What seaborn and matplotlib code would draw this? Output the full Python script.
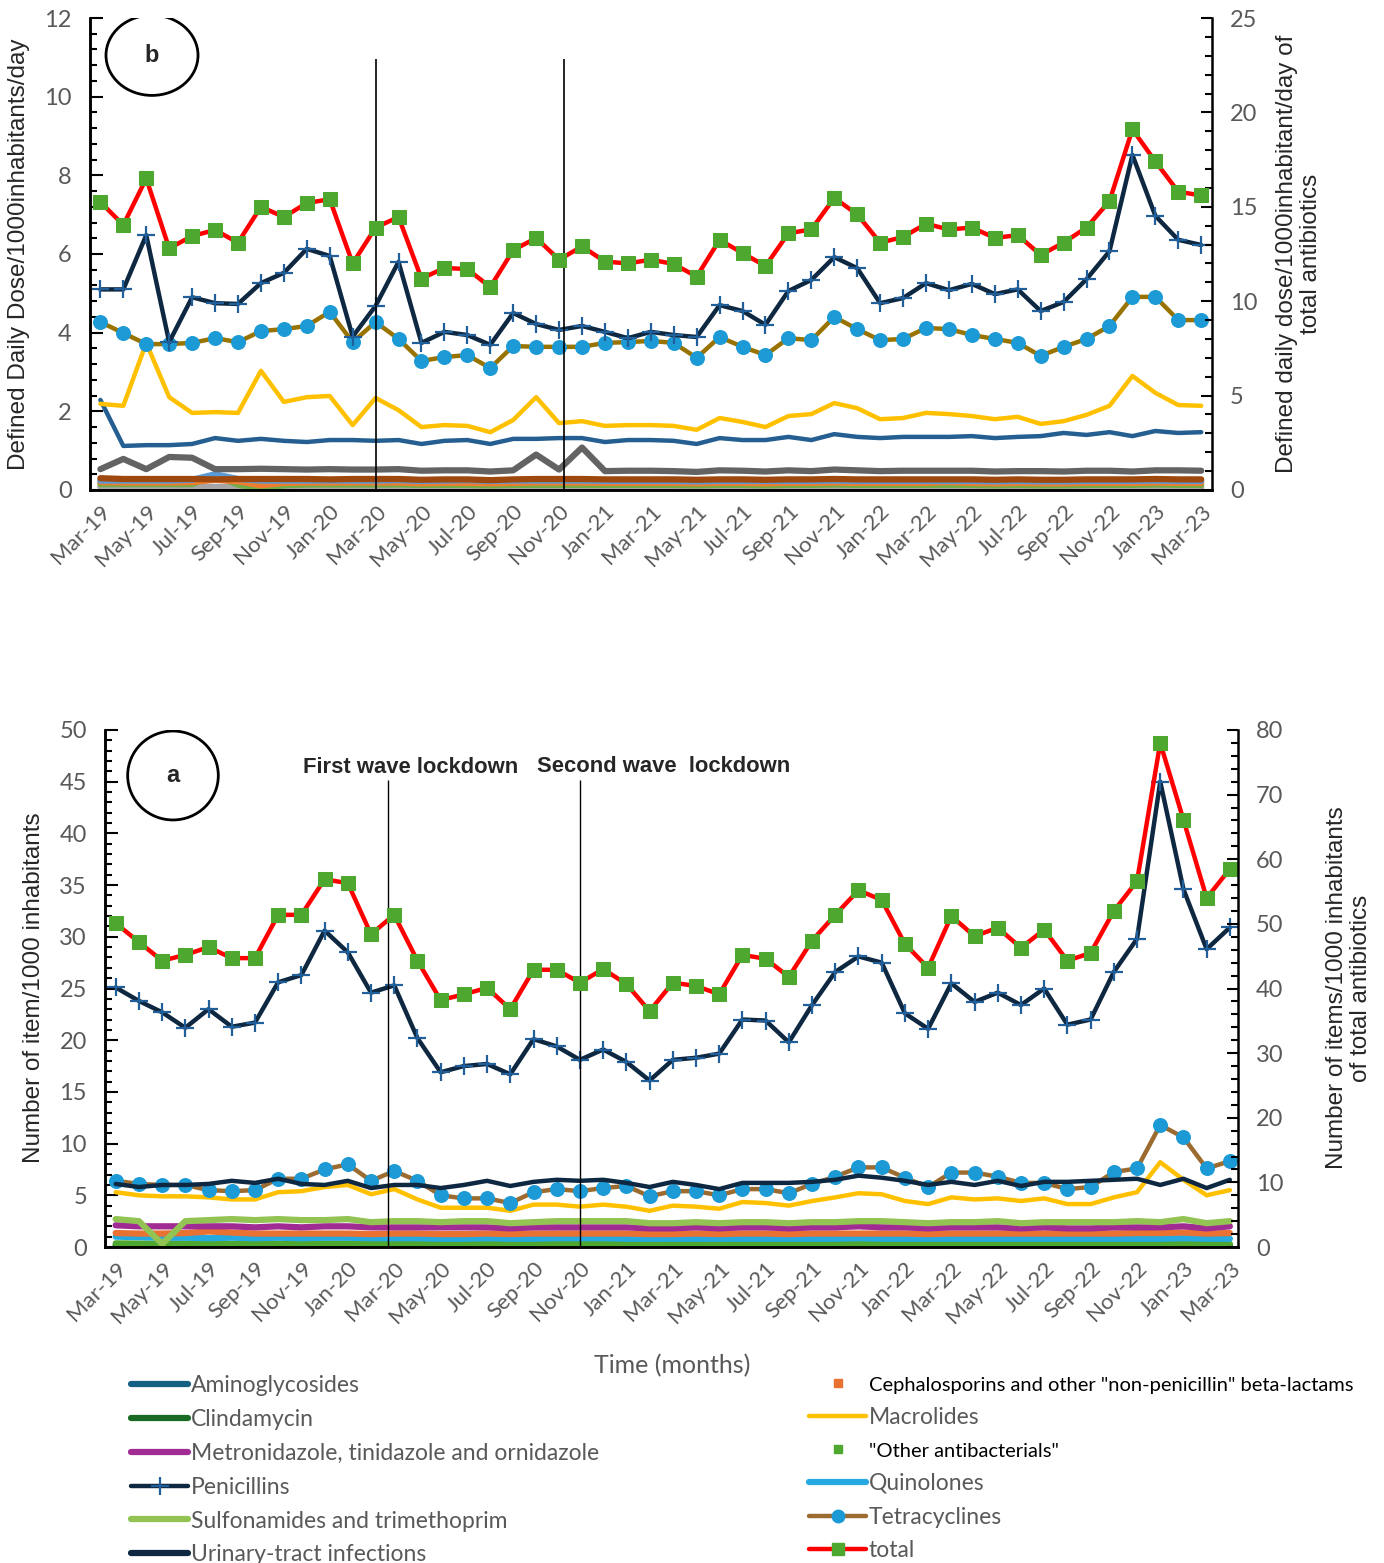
import matplotlib
matplotlib.use("Agg")
import matplotlib.pyplot as plt
import seaborn as sns
from matplotlib.patches import Ellipse
from matplotlib.lines import Line2D
from matplotlib.ticker import MultipleLocator

sns.set_style("white")
plt.rcParams['font.family'] = ['Lato', 'DejaVu Sans']

months = ['Mar-19','Apr-19','May-19','Jun-19','Jul-19','Aug-19','Sep-19','Oct-19','Nov-19','Dec-19',
          'Jan-20','Feb-20','Mar-20','Apr-20','May-20','Jun-20','Jul-20','Aug-20','Sep-20','Oct-20','Nov-20','Dec-20',
          'Jan-21','Feb-21','Mar-21','Apr-21','May-21','Jun-21','Jul-21','Aug-21','Sep-21','Oct-21','Nov-21','Dec-21',
          'Jan-22','Feb-22','Mar-22','Apr-22','May-22','Jun-22','Jul-22','Aug-22','Sep-22','Oct-22','Nov-22','Dec-22',
          'Jan-23','Feb-23','Mar-23']

# ---------- panel b: DDD/1000 inhabitants/day ----------
total_b = [15.25,14.04,16.5,12.8,13.45,13.77,13.1,15.0,14.46,15.2,15.4,12.0,13.9,14.46,11.2,11.76,11.7,10.75,12.7,13.35,
           12.2,12.9,12.1,12.0,12.2,11.97,11.3,13.25,12.55,11.86,13.6,13.8,15.47,14.6,13.1,13.4,14.1,13.8,13.9,13.35,
           13.5,12.45,13.1,13.9,15.3,19.1,17.4,15.8,15.6]
pen_b = [5.1,5.1,6.48,3.76,4.9,4.75,4.73,5.26,5.52,6.13,5.95,3.9,4.68,5.8,3.74,4.02,3.94,3.69,4.5,4.22,4.07,4.17,
         4.02,3.86,4.02,3.94,3.89,4.7,4.55,4.2,5.06,5.34,5.92,5.64,4.75,4.88,5.26,5.08,5.24,4.98,5.1,4.55,4.78,5.36,
         6.07,8.52,6.97,6.36,6.23]
tet_b = [4.27,3.99,3.71,3.71,3.74,3.86,3.76,4.04,4.09,4.17,4.53,3.76,4.27,3.84,3.28,3.38,3.43,3.1,3.66,3.64,3.64,3.64,
         3.74,3.76,3.79,3.74,3.36,3.89,3.64,3.43,3.86,3.81,4.4,4.09,3.81,3.84,4.12,4.09,3.94,3.84,3.74,3.41,3.64,3.84,
         4.17,4.91,4.91,4.32,4.32]
mac_b = [2.19,2.14,3.74,2.36,1.96,1.98,1.96,3.03,2.24,2.36,2.39,1.65,2.34,2.03,1.6,1.65,1.63,1.47,1.78,2.36,1.7,1.75,
         1.63,1.65,1.65,1.63,1.53,1.83,1.73,1.6,1.88,1.93,2.21,2.08,1.8,1.83,1.96,1.93,1.88,1.8,1.86,1.68,1.75,1.91,
         2.14,2.9,2.47,2.16,2.14]
uti_b = [2.29,1.12,1.14,1.14,1.17,1.32,1.25,1.3,1.25,1.22,1.27,1.27,1.25,1.27,1.17,1.25,1.27,1.17,1.3,1.3,1.32,1.32,
         1.22,1.27,1.27,1.25,1.17,1.32,1.27,1.27,1.35,1.27,1.42,1.35,1.32,1.35,1.35,1.35,1.37,1.32,1.35,1.37,1.45,1.4,
         1.47,1.37,1.5,1.45,1.47]
sul_b = [0.53,0.79,0.53,0.84,0.82,0.53,0.53,0.54,0.53,0.52,0.53,0.52,0.52,0.53,0.49,0.5,0.5,0.47,0.5,0.9,0.52,1.08,
         0.48,0.49,0.49,0.48,0.46,0.5,0.49,0.47,0.5,0.48,0.52,0.5,0.48,0.49,0.49,0.49,0.49,0.47,0.48,0.48,0.47,0.49,
         0.49,0.47,0.5,0.5,0.49]
quin_b = [0.3,0.28,0.28,0.28,0.28,0.27,0.28,0.28,0.28,0.28,0.27,0.28,0.28,0.28,0.26,0.27,0.27,0.25,0.27,0.28,0.28,0.28,
          0.27,0.27,0.27,0.27,0.26,0.27,0.27,0.26,0.27,0.27,0.28,0.27,0.27,0.27,0.27,0.27,0.27,0.26,0.27,0.26,0.26,0.27,
          0.27,0.27,0.28,0.27,0.27]
metro_b = [0.24,0.24,0.24,0.24,0.26,0.4,0.28,0.24,0.24,0.24,0.24,0.24,0.24,0.25,0.23,0.24,0.25,0.23,0.24,0.24,0.24,0.24,
           0.23,0.23,0.23,0.23,0.22,0.23,0.23,0.23,0.23,0.23,0.24,0.23,0.23,0.23,0.23,0.23,0.23,0.22,0.23,0.22,0.22,0.23,
           0.23,0.23,0.24,0.23,0.23]
ceph_b = [0.2,0.19,0.19,0.19,0.2,0.26,0.22,0.12,0.18,0.19,0.19,0.19,0.19,0.19,0.17,0.18,0.18,0.17,0.18,0.19,0.19,0.19,
          0.18,0.18,0.18,0.18,0.17,0.18,0.18,0.17,0.18,0.18,0.19,0.18,0.18,0.18,0.18,0.2,0.18,0.17,0.18,0.17,0.17,0.18,
          0.18,0.18,0.19,0.18,0.18]
other_b = [0.15,0.15,0.15,0.15,0.15,0.36,0.14,0.02,0.12,0.14,0.14,0.14,0.14,0.14,0.13,0.13,0.13,0.12,0.13,0.13,0.13,0.13,
           0.13,0.13,0.13,0.13,0.12,0.13,0.13,0.12,0.13,0.13,0.14,0.13,0.13,0.13,0.13,0.13,0.13,0.12,0.13,0.12,0.12,0.13,
           0.13,0.13,0.14,0.13,0.13]
clin_b = [0.08,0.08,0.08,0.08,0.08,0.08,0.08,0.08,0.08,0.08,0.08,0.08,0.08,0.08,0.07,0.07,0.07,0.07,0.07,0.07,0.07,0.07,
          0.07,0.07,0.07,0.07,0.07,0.07,0.07,0.07,0.07,0.07,0.07,0.07,0.07,0.07,0.07,0.07,0.07,0.07,0.07,0.07,0.07,0.07,
          0.07,0.07,0.07,0.07,0.07]
amino_b = [0.01,0.01,0.01,0.01,0.01,0.01,0.01,0.01,0.01,0.01,0.01,0.01,0.01,0.01,0.01,0.01,0.01,0.01,0.01,0.01,0.01,0.01,
           0.01,0.01,0.01,0.01,0.01,0.01,0.01,0.01,0.01,0.01,0.01,0.01,0.01,0.01,0.01,0.01,0.01,0.01,0.01,0.01,0.01,0.01,
           0.01,0.01,0.01,0.01,0.01]

# ---------- panel a: items/1000 inhabitants ----------
total_a = [50.1,47.2,44.3,45.2,46.4,44.7,44.7,51.4,51.4,56.9,56.3,48.4,51.4,44.3,38.2,39.1,40.1,36.8,42.9,42.9,40.9,43.0,
           40.7,36.5,40.9,40.4,39.1,45.2,44.6,41.8,47.4,51.4,55.2,53.7,46.9,43.2,51.2,48.1,49.4,46.3,49.1,44.3,45.5,52.0,
           56.6,78.0,66.1,54.0,58.5]
pen_a = [25.1,23.8,22.7,21.2,23.0,21.3,21.7,25.6,26.3,30.6,28.5,24.6,25.3,20.2,16.9,17.5,17.7,16.7,20.1,19.4,18.1,19.1,
         17.9,16.1,18.1,18.3,18.7,22.0,21.9,19.8,23.4,26.6,28.1,27.5,22.6,21.1,25.5,23.7,24.6,23.4,25.0,21.5,22.0,26.6,
         29.8,45.0,34.6,28.8,30.9]
tet_a = [6.4,6.1,6.0,6.0,5.5,5.4,5.5,6.6,6.6,7.5,8.0,6.4,7.35,6.4,5.0,4.7,4.7,4.25,5.3,5.6,5.4,5.7,5.9,4.9,5.4,5.4,5.0,
         5.6,5.6,5.2,6.1,6.8,7.7,7.7,6.7,5.8,7.2,7.2,6.8,6.2,6.2,5.6,5.8,7.25,7.6,11.8,10.6,7.6,8.3]
uti_a = [6.1,5.8,6.0,6.0,6.1,6.4,6.2,6.6,6.1,6.0,6.4,5.7,6.0,6.0,5.7,6.0,6.4,5.9,6.3,6.5,6.4,6.5,6.2,5.8,6.3,6.0,5.6,
         6.2,6.2,6.2,6.3,6.5,6.9,6.7,6.4,6.0,6.3,6.0,6.4,5.9,6.3,6.3,6.4,6.5,6.6,6.0,6.6,5.7,6.5]
mac_a = [5.3,5.0,4.9,4.9,4.8,4.6,4.6,5.3,5.4,5.8,6.0,5.1,5.6,4.6,3.8,3.8,3.8,3.5,4.1,4.1,3.9,4.1,3.9,3.5,4.0,3.9,3.7,
         4.35,4.25,4.0,4.45,4.8,5.2,5.1,4.45,4.15,4.8,4.6,4.7,4.45,4.7,4.15,4.15,4.8,5.3,8.2,6.5,5.0,5.5]
sul_a = [2.7,2.5,0.3,2.5,2.6,2.7,2.6,2.7,2.6,2.6,2.7,2.4,2.5,2.5,2.4,2.5,2.5,2.3,2.4,2.5,2.5,2.5,2.5,2.3,2.3,2.4,2.3,
         2.4,2.4,2.3,2.4,2.4,2.5,2.5,2.4,2.3,2.4,2.4,2.5,2.3,2.4,2.4,2.4,2.4,2.5,2.4,2.7,2.3,2.5]
metro_a = [2.1,2.0,2.0,2.0,2.0,2.0,1.9,2.0,1.9,2.0,2.0,1.9,1.9,1.9,1.9,1.9,1.9,1.8,1.9,1.9,1.9,1.9,1.9,1.8,1.8,1.9,1.8,
           1.9,1.9,1.8,1.9,1.9,2.0,1.9,1.9,1.8,1.9,1.9,1.9,1.8,1.9,1.8,1.8,1.9,1.9,1.9,2.0,1.8,2.0]
ceph_a = [1.35,1.3,1.3,1.35,1.5,1.4,1.3,1.3,1.3,1.3,1.3,1.25,1.3,1.3,1.25,1.25,1.3,1.25,1.3,1.3,1.3,1.3,1.3,1.25,1.25,
          1.3,1.25,1.3,1.3,1.25,1.3,1.3,1.3,1.3,1.3,1.25,1.3,1.3,1.3,1.3,1.3,1.3,1.3,1.3,1.35,1.35,1.4,1.3,1.35]
quin_a = [1.0,0.95,0.9,0.9,0.85,0.9,0.85,0.9,0.85,0.9,0.9,0.85,0.85,0.85,0.8,0.8,0.85,0.8,0.8,0.85,0.85,0.85,0.8,0.8,
          0.8,0.8,0.8,0.8,0.8,0.8,0.8,0.8,0.85,0.8,0.8,0.8,0.8,0.8,0.8,0.8,0.8,0.8,0.8,0.8,0.8,0.8,0.85,0.8,0.8]
other_a = [0.35,0.33,0.32,0.32,0.3,0.3,0.3,0.32,0.32,0.33,0.33,0.3,0.3,0.3,0.28,0.28,0.28,0.27,0.28,0.3,0.3,0.3,0.28,
           0.27,0.28,0.28,0.27,0.28,0.28,0.28,0.3,0.3,0.32,0.3,0.3,0.28,0.3,0.3,0.3,0.28,0.3,0.28,0.28,0.3,0.3,0.3,0.32,
           0.28,0.3]
clin_a = [0.18,0.18,0.17,0.17,0.17,0.17,0.17,0.17,0.17,0.17,0.17,0.16,0.16,0.16,0.15,0.15,0.15,0.15,0.15,0.15,0.15,
          0.15,0.15,0.15,0.15,0.15,0.15,0.15,0.15,0.15,0.15,0.15,0.15,0.15,0.15,0.15,0.15,0.15,0.15,0.15,0.15,0.15,0.15,
          0.15,0.15,0.15,0.15,0.15,0.15]
amino_a = [0.05,0.05,0.05,0.05,0.05,0.05,0.05,0.05,0.05,0.05,0.05,0.05,0.05,0.05,0.05,0.05,0.05,0.05,0.05,0.05,0.05,
           0.05,0.05,0.05,0.05,0.05,0.05,0.05,0.05,0.05,0.05,0.05,0.05,0.05,0.05,0.05,0.05,0.05,0.05,0.05,0.05,0.05,0.05,
           0.05,0.05,0.05,0.05,0.05,0.05]

x = list(range(len(months)))
for arr in [total_b, pen_b, tet_b, mac_b, uti_b, sul_b, quin_b, metro_b, ceph_b, other_b, clin_b, amino_b,
            total_a, pen_a, tet_a, uti_a, mac_a, sul_a, metro_a, ceph_a, quin_a, other_a, clin_a, amino_a]:
    assert len(arr) == len(months), len(arr)

GRAY = '#595959'
LABEL_FS = 17.5
fig = plt.figure(figsize=(13.84, 15.63), dpi=100)

def line(ax, y, color, lw=3.2, **kw):
    sns.lineplot(x=x, y=y, ax=ax, color=color, linewidth=lw, legend=False, **kw)

def style_axes(ax, axr, ymax_l, maj_l, min_l, ymax_r, maj_r, min_r, xlim):
    ax.set_xlim(*xlim)
    ax.set_ylim(0, ymax_l)
    axr.set_ylim(0, ymax_r)
    ax.yaxis.set_major_locator(MultipleLocator(maj_l))
    ax.yaxis.set_minor_locator(MultipleLocator(min_l))
    axr.yaxis.set_major_locator(MultipleLocator(maj_r))
    axr.yaxis.set_minor_locator(MultipleLocator(min_r))
    ax.set_xticks(x[::2])
    ax.set_xticklabels(months[::2], rotation=45, ha='right', rotation_mode='anchor',
                       fontsize=16, color=GRAY)
    for a in (ax, axr):
        a.spines['top'].set_visible(False)
        for s in ['left', 'right', 'bottom']:
            a.spines[s].set_color('black')
            a.spines[s].set_linewidth(1.8)
        a.grid(False)
    ax.spines['right'].set_visible(False)
    ax.tick_params(axis='y', which='major', direction='in', length=9, width=1.5, color='black',
                   labelsize=17, labelcolor=GRAY, left=True, pad=13)
    ax.tick_params(axis='y', which='minor', direction='in', length=5, width=1.5, color='black', left=True)
    axr.tick_params(axis='y', which='major', direction='in', length=8, width=1.5, color='black',
                    labelsize=17, labelcolor=GRAY, right=True, pad=13)
    axr.tick_params(axis='y', which='minor', direction='in', length=5, width=1.5, color='black', right=True)
    ax.tick_params(axis='x', which='major', direction='in', length=0, pad=8)
    ax.set_xlabel('')
    ax.set_ylabel('')
    axr.set_xlabel('')
    axr.set_ylabel('')

# ===================== panel b (top) =====================
axb = fig.add_axes([89.6/1384, 1-490/1563, (1212-89.6)/1384, (490-18)/1563])
axb.set_facecolor('none')
line(axb, amino_b, '#4472C4', lw=2.5)
line(axb, clin_b, '#A5A5A5', lw=4.5)
line(axb, other_b, '#70AD47', lw=4.5)
line(axb, ceph_b, '#ED7D31', lw=4.5)
line(axb, metro_b, '#5B9BD5', lw=4.5)
line(axb, quin_b, '#9E480E', lw=4.5)
line(axb, sul_b, '#636363', lw=4.5)
line(axb, uti_b, '#255E91', lw=3.2)
line(axb, mac_b, '#FFC000', lw=3.2)
line(axb, tet_b, '#997300', lw=3.2, marker='o', markersize=10, markerfacecolor='#1B9AD6',
     markeredgecolor='#1B9AD6')
line(axb, pen_b, '#0E2841', lw=3.2, marker='+', markersize=13, markeredgewidth=1.6,
     markeredgecolor='#215F9A')
axb.vlines([12.0, 20.2], 0, 10.95, colors='black', linewidth=1.2, zorder=5)
axbr = axb.twinx()
line(axbr, total_b, '#FF0000', lw=3.2, marker='s', markersize=10, markerfacecolor='#4EA72E',
     markeredgecolor='#4EA72E')
style_axes(axb, axbr, 12, 2, 0.4, 25, 5, 1, (-0.47, 48.47))
axb.add_patch(Ellipse((0.0556, 0.921), 0.082, 0.170, transform=axb.transAxes, fill=False,
                      edgecolor='black', linewidth=2, zorder=6))
axb.text(0.0556, 0.921, 'b', transform=axb.transAxes, ha='center', va='center', fontsize=17,
         fontweight='bold', family=['Liberation Sans'])

fig.text(19/1384, 1-254/1563, 'Defined Daily Dose/1000inhabitants/day', rotation=90, ha='center',
         va='center', fontsize=LABEL_FS, family=['Liberation Sans'])
fig.text(1299/1384, 1-254/1563, 'Defined daily dose/1000inhabitant/day of\ntotal antibiotics', rotation=90,
         ha='center', va='center', fontsize=LABEL_FS, family=['Liberation Sans'], linespacing=1.1)

# ===================== panel a (bottom) =====================
axa = fig.add_axes([105/1384, 1-1247/1563, (1238-105)/1384, (1247-730)/1563])
axa.set_facecolor('none')
line(axa, amino_a, '#156082', lw=4.5)
line(axa, clin_a, '#196B24', lw=4.5)
line(axa, other_a, '#4EA72E', lw=4.5)
line(axa, quin_a, '#26A9E0', lw=4.5)
line(axa, ceph_a, '#E97132', lw=4.5)
line(axa, metro_a, '#A02B93', lw=4.5)
line(axa, sul_a, '#92C353', lw=4.5)
line(axa, mac_a, '#FFC000', lw=3.2)
line(axa, tet_a, '#9C6B30', lw=3.2, marker='o', markersize=10, markerfacecolor='#1B9AD6',
     markeredgecolor='#1B9AD6')
line(axa, uti_a, '#0E2841', lw=3.2)
line(axa, pen_a, '#0E2841', lw=3.2, marker='+', markersize=13, markeredgewidth=1.6,
     markeredgecolor='#215F9A')
axa.vlines([11.75], 0.1, 45.2, colors='black', linewidth=1.0, zorder=5)
axa.vlines([20.0], 0.1, 45.2, colors='black', linewidth=1.0, zorder=5)
axar = axa.twinx()
line(axar, total_a, '#FF0000', lw=3.2, marker='s', markersize=10, markerfacecolor='#4EA72E',
     markeredgecolor='#4EA72E')
style_axes(axa, axar, 50, 5, 1, 80, 10, 2, (-0.46, 48.35))
axa.add_patch(Ellipse((0.060, 0.912), 0.080, 0.172, transform=axa.transAxes, fill=False,
                      edgecolor='black', linewidth=2, zorder=6))
axa.text(0.060, 0.912, 'a', transform=axa.transAxes, ha='center', va='center', fontsize=17,
         fontweight='bold', family=['Liberation Sans'])
axa.text(12.7, 46.4, 'First wave lockdown', ha='center', va='center', fontsize=15.8, fontweight='bold',
         family=['Liberation Sans'])
axa.text(23.6, 46.5, 'Second wave  lockdown', ha='center', va='center', fontsize=15.8, fontweight='bold',
         family=['Liberation Sans'])

fig.text(34/1384, 1-988/1563, 'Number of item/1000 inhabitants', rotation=90, ha='center',
         va='center', fontsize=LABEL_FS, family=['Liberation Sans'])
fig.text(1349/1384, 1-988/1563, 'Number of items/1000 inhabitants\nof total antibiotics', rotation=90,
         ha='center', va='center', fontsize=LABEL_FS, family=['Liberation Sans'], linespacing=1.1)
fig.text(672/1384, 1-1366/1563, 'Time (months)', ha='center', va='center', fontsize=18, color=GRAY)

# ===================== legend =====================
def lh(color, lw=4.5, **kw):
    return Line2D([0], [0], color=color, linewidth=lw, **kw)

left_h = [lh('#156082'), lh('#196B24'), lh('#A02B93'),
          lh('#0E2841', lw=3.2, marker='+', markersize=13, markeredgewidth=1.6, markeredgecolor='#215F9A'),
          lh('#92C353'), lh('#0E2841')]
left_l = ['Aminoglycosides', 'Clindamycin', 'Metronidazole, tinidazole and ornidazole', 'Penicillins',
          'Sulfonamides and trimethoprim', 'Urinary-tract infections']
right_h = [Line2D([0], [0], color='#E97132', linewidth=0, marker='s', markersize=6),
           lh('#FFC000', lw=3.2),
           Line2D([0], [0], color='#4EA72E', linewidth=0, marker='s', markersize=6),
           lh('#26A9E0'),
           lh('#9C6B30', lw=3.2, marker='o', markersize=9, markerfacecolor='#1B9AD6', markeredgecolor='#1B9AD6'),
           lh('#FF0000', lw=3.2, marker='s', markersize=9, markerfacecolor='#4EA72E', markeredgecolor='#4EA72E')]
right_l = ['Cephalosporins and other "non-penicillin" beta-lactams', 'Macrolides', '"Other antibacterials"',
           'Quinolones', 'Tetracyclines', 'total']

legL = fig.legend(left_h, left_l, loc='upper left', bbox_to_anchor=(122/1384, 1-1366/1563), frameon=False,
                  fontsize=16.5, handlelength=2.5, handletextpad=0.1, labelspacing=0.56, borderaxespad=0)
for t in legL.get_texts():
    t.set_color(GRAY)
legR = fig.legend(right_h, right_l, loc='upper left', bbox_to_anchor=(800/1384, 1-1366/1563), frameon=False,
                  fontsize=16.5, handlelength=2.5, handletextpad=0.1, labelspacing=0.56, borderaxespad=0)
for i, t in enumerate(legR.get_texts()):
    if i in (0, 2):
        t.set_color('black')
        t.set_fontsize(14.5)
    else:
        t.set_color(GRAY)

fig.savefig('out.png', dpi=100)
